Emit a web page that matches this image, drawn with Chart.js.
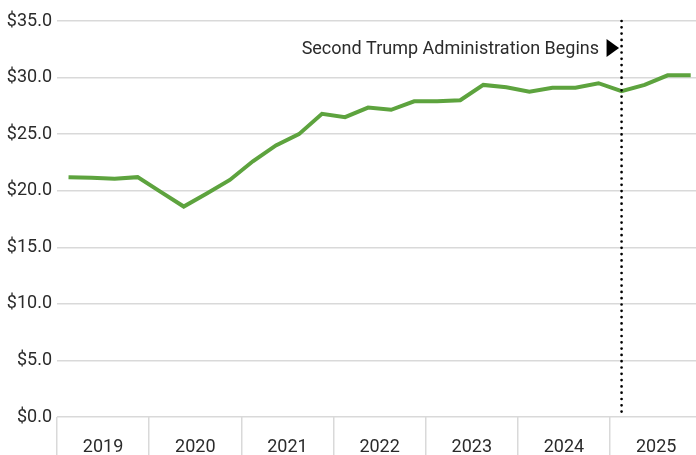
<!DOCTYPE html>
<html>
<head>
<meta charset="utf-8">
<script src="https://cdn.jsdelivr.net/npm/chart.js@4.4.1/dist/chart.umd.min.js"></script>
<style>
  html, body { margin: 0; padding: 0; background: #fff; }
  #wrap { width: 696px; height: 455px; }
</style>
</head>
<body>
<div id="wrap"><canvas id="wageChart"></canvas></div>
<script>
const years = ['2019', '2020', '2021', '2022', '2023', '2024', '2025'];
// one value per quarter, 2019 Q1 .. 2025 Q4
const quarterValues = [
  21.2, 21.15, 21.05, 21.2,
  19.9, 18.6, 19.75, 20.95,
  22.6, 24.0, 25.0, 26.8,
  26.5, 27.35, 27.15, 27.9,
  27.9, 28.0, 29.35, 29.15,
  28.75, 29.1, 29.1, 29.5,
  28.8, 29.35, 30.2, 30.2
];
const yTicks = [0, 5, 10, 15, 20, 25, 30, 35];
const markerIndex = 24; // 2025 Q1
const markerLabel = 'Second Trump Administration Begins';

const points = quarterValues.map((v, i) => ({ x: i, y: v }));

// year boundaries get a tick line, year centres get the label
const xTicks = [];
years.forEach((y, i) => {
  xTicks.push(i * 4 - 0.5);
  xTicks.push(i * 4 + 1.5);
});
const isBoundary = v => (v + 0.5) % 4 === 0;

const font = { family: 'Roboto', size: 18 };
const textColor = '#2b2b2b';
const gridColor = '#d9d9d9';

const markerPlugin = {
  id: 'marker',
  afterDatasetsDraw(chart) {
    const { ctx, chartArea, scales } = chart;
    const x = scales.x.getPixelForValue(markerIndex);
    const top = chartArea.top;
    ctx.save();
    ctx.strokeStyle = '#000';
    ctx.lineWidth = 2.7;
    ctx.lineCap = 'round';
    ctx.setLineDash([0, 6.3]);
    ctx.beginPath();
    ctx.moveTo(x, top);
    ctx.lineTo(x, chartArea.bottom);
    ctx.stroke();
    ctx.setLineDash([]);

    ctx.fillStyle = '#000';
    ctx.beginPath();
    ctx.moveTo(x - 15, top + 18);
    ctx.lineTo(x - 2.5, top + 27);
    ctx.lineTo(x - 15, top + 36);
    ctx.closePath();
    ctx.fill();

    ctx.fillStyle = textColor;
    ctx.font = '18px ' + font.family;
    ctx.textAlign = 'right';
    ctx.textBaseline = 'middle';
    ctx.fillText(markerLabel, x - 22.5, top + 28);
    ctx.restore();
  }
};

const ctx = document.getElementById('wageChart').getContext('2d');

new Chart(ctx, {
  type: 'line',
  data: {
    datasets: [{
      data: points,
      borderColor: '#5da33e',
      borderWidth: 4,
      pointRadius: 0,
      tension: 0,
      fill: false
    }]
  },
  options: {
    responsive: true,
    maintainAspectRatio: false,
    animation: false,
    layout: { padding: { top: 21, right: 0, bottom: 0, left: 0 } },
    plugins: {
      legend: { display: false },
      tooltip: { enabled: false }
    },
    scales: {
      x: {
        type: 'linear',
        min: -0.5,
        max: 27.23,
        afterBuildTicks: s => { s.ticks = xTicks.map(v => ({ value: v })); },
        afterFit: s => { s.height = 38; },
        grid: {
          drawOnChartArea: false,
          drawTicks: true,
          tickLength: 38,
          lineWidth: 1.5,
          color: c => isBoundary(c.tick.value) ? gridColor : 'rgba(0,0,0,0)'
        },
        border: { display: false },
        ticks: {
          autoSkip: false,
          maxRotation: 0,
          padding: -18,
          color: textColor,
          font: font,
          callback: v => isBoundary(v) ? '' : years[Math.floor(v / 4)]
        }
      },
      y: {
        min: 0,
        max: 35,
        afterBuildTicks: s => { s.ticks = yTicks.map(v => ({ value: v })); },
        afterFit: s => { s.width = 57; },
        grid: { color: gridColor, lineWidth: 1.5, drawTicks: false },
        border: { display: false },
        ticks: {
          padding: 5,
          color: textColor,
          font: font,
          callback: v => '$' + v.toFixed(1)
        }
      }
    }
  },
  plugins: [markerPlugin]
});
</script>
</body>
</html>
